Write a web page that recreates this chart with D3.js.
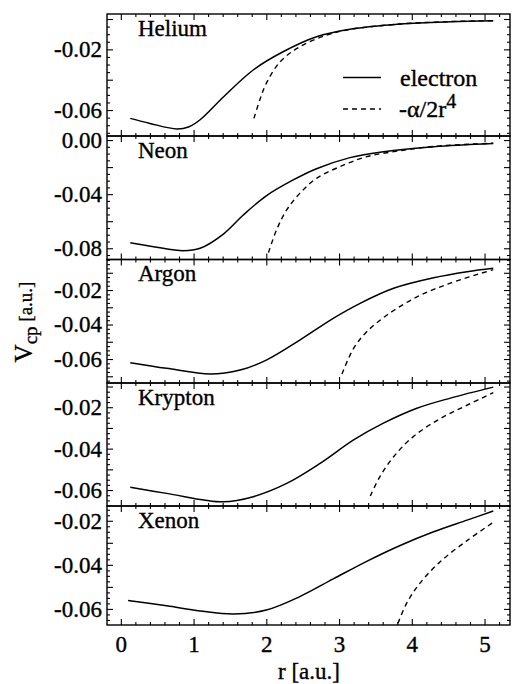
<!DOCTYPE html>
<html>
<head>
<meta charset="utf-8">
<script src="https://cdn.jsdelivr.net/npm/d3@7"></script>
<style>
  body { margin: 0; background: #fff; }
  svg { display: block; }
</style>
</head>
<body>
<svg id="chart" width="516" height="684"></svg>
<script>
// ---- data ---------------------------------------------------------------
const panelNames = ["Helium", "Neon", "Argon", "Krypton", "Xenon"];
const xTickValues = [0, 1, 2, 3, 4, 5];

// labelled y ticks for each panel
const heliumTickLabels  = [-0.02, -0.06];
const neonTickLabels    = [0.00, -0.04, -0.08];
const argonTickLabels   = [-0.02, -0.04, -0.06];
const kryptonTickLabels = [-0.02, -0.04, -0.06];
const xenonTickLabels   = [-0.02, -0.04, -0.06];

// core-polarization potential from the electron calculation: [r, Vcp]
const heliumElectron = [[0.13,-0.0655],[0.40,-0.0688],[0.77,-0.0725],[0.93,-0.0712],[1.09,-0.0664],
  [1.41,-0.0514],[1.82,-0.0336],[2.23,-0.0216],[2.69,-0.0117],[3.15,-0.0068],[3.84,-0.0033],
  [4.53,-0.0018],[5.12,-0.0012]];
const neonElectron = [[0.13,-0.0759],[0.45,-0.0788],[0.86,-0.0818],[1.09,-0.0800],[1.41,-0.0695],
  [1.68,-0.0556],[2.00,-0.0412],[2.37,-0.0295],[2.69,-0.0212],[3.15,-0.0130],[3.61,-0.0086],
  [4.30,-0.0049],[5.12,-0.0025]];
const argonElectron = [[0.13,-0.0621],[0.63,-0.0654],[1.23,-0.0687],[1.64,-0.0664],[2.00,-0.0606],
  [2.46,-0.0490],[2.92,-0.0364],[3.29,-0.0277],[3.75,-0.0190],[4.30,-0.0129],[4.76,-0.0094],
  [5.12,-0.0074]];
const kryptonElectron = [[0.13,-0.0587],[0.63,-0.0616],[1.41,-0.0657],[1.82,-0.0632],[2.28,-0.0568],
  [2.74,-0.0471],[3.20,-0.0358],[3.61,-0.0277],[4.07,-0.0205],[4.53,-0.0156],[5.12,-0.0103]];
const xenonElectron = [[0.10,-0.0562],[0.63,-0.0586],[1.09,-0.0609],[1.55,-0.0623],[2.00,-0.0605],
  [2.46,-0.0544],[2.92,-0.0464],[3.38,-0.0384],[3.84,-0.0312],[4.30,-0.0250],[4.76,-0.0197],
  [5.12,-0.0156]];

// asymptotic -alpha/2r^4 curves: [r, Vcp]
const heliumAsymptotic = [[1.83,-0.0655],[1.91,-0.0534],[2.00,-0.0424],[2.19,-0.0282],[2.46,-0.0183],
  [2.83,-0.0106],[3.15,-0.0069],[3.84,-0.0033],[4.53,-0.0017],[5.12,-0.0011]];
const neonAsymptotic = [[2.03,-0.0832],[2.14,-0.0665],[2.28,-0.0517],[2.46,-0.0394],[2.69,-0.0283],
  [3.01,-0.0197],[3.38,-0.0123],[3.84,-0.0079],[4.30,-0.0047],[5.12,-0.0023]];
const argonAsymptotic = [[3.04,-0.0687],[3.20,-0.0538],[3.38,-0.0442],[3.66,-0.0345],[4.07,-0.0240],
  [4.53,-0.0160],[5.12,-0.0082]];
const kryptonAsymptotic = [[3.43,-0.0629],[3.56,-0.0536],[3.75,-0.0439],[4.02,-0.0342],[4.39,-0.0255],
  [4.76,-0.0190],[5.12,-0.0130]];
const xenonAsymptotic = [[3.81,-0.0665],[3.93,-0.0574],[4.11,-0.0484],[4.39,-0.0386],[4.76,-0.0290],
  [5.12,-0.0207]];

const electronSeries   = [heliumElectron, neonElectron, argonElectron, kryptonElectron, xenonElectron];
const asymptoticSeries = [heliumAsymptotic, neonAsymptotic, argonAsymptotic, kryptonAsymptotic, xenonAsymptotic];
const tickLabelSets    = [heliumTickLabels, neonTickLabels, argonTickLabels, kryptonTickLabels, xenonTickLabels];

// ---- layout -------------------------------------------------------------
const FONT = "'Liberation Serif', 'Times New Roman', serif";
const plotLeft = 107, plotRight = 510;
const panelEdges = [14, 136, 259.5, 383, 506, 625];
const yDomains = [[-0.0771, 0.0033], [-0.0883, 0.0030], [-0.0739, -0.0023], [-0.0677, -0.0083], [-0.0673, -0.0133]];
const majorSteps = [0.02, 0.02, 0.01, 0.01, 0.01];

const svg = d3.select("#chart");
const x = d3.scaleLinear().domain([-0.19, 5.35]).range([plotLeft, plotRight]);
const xMajor = xTickValues;
const xMinor = d3.range(0, 5.3, 0.2).map(v => +v.toFixed(1)).filter(v => !xMajor.includes(v));

function stepTicks(domain, step) {
  const lo = Math.ceil(domain[0] / step - 1e-9), hi = Math.floor(domain[1] / step + 1e-9);
  return d3.range(lo, hi + 1).map(i => +(i * step).toFixed(5));
}
const fmt = v => (Math.abs(v) < 1e-9 ? "0.00" : v.toFixed(2));

// all text in a Times-like face with a slightly heavy, printed look
function styleText(sel, size) {
  return sel.style("font-family", FONT).style("font-size", size + "px")
    .attr("fill", "#000").attr("stroke", "#000").attr("stroke-width", 0.35);
}

const line = (xs, ys) => d3.line().x(d => xs(d[0])).y(d => ys(d[1])).curve(d3.curveCatmullRom.alpha(0.5));

panelNames.forEach((name, i) => {
  const top = panelEdges[i], bottom = panelEdges[i + 1];
  const y = d3.scaleLinear().domain(yDomains[i]).range([bottom, top]);
  const g = svg.append("g");

  const clipId = "clip" + i;
  svg.append("clipPath").attr("id", clipId).append("rect")
    .attr("x", plotLeft).attr("y", top).attr("width", plotRight - plotLeft).attr("height", bottom - top);

  const majors = stepTicks(yDomains[i], majorSteps[i]);
  const minors = stepTicks(yDomains[i], majorSteps[i] / 4).filter(v => !majors.some(m => Math.abs(m - v) < 1e-7));
  const labels = tickLabelSets[i];
  const labelOf = v => (labels.some(l => Math.abs(l - v) < 1e-7) ? fmt(v) : "");

  // y axes, ticks pointing inward
  g.append("g").attr("transform", `translate(${plotLeft},0)`)
    .call(d3.axisLeft(y).tickValues(majors).tickSize(-6).tickPadding(5).tickFormat(labelOf));
  g.append("g").attr("transform", `translate(${plotLeft},0)`)
    .call(d3.axisLeft(y).tickValues(minors).tickSize(-3).tickFormat(""));
  g.append("g").attr("transform", `translate(${plotRight},0)`)
    .call(d3.axisRight(y).tickValues(majors).tickSize(-6).tickFormat(""));
  g.append("g").attr("transform", `translate(${plotRight},0)`)
    .call(d3.axisRight(y).tickValues(minors).tickSize(-3).tickFormat(""));

  // x ticks on top and bottom edges of every panel
  g.append("g").attr("transform", `translate(0,${top})`)
    .call(d3.axisTop(x).tickValues(xMajor).tickSize(-6).tickFormat(""));
  g.append("g").attr("transform", `translate(0,${top})`)
    .call(d3.axisTop(x).tickValues(xMinor).tickSize(-3).tickFormat(""));
  const isLast = i === panelNames.length - 1;
  g.append("g").attr("transform", `translate(0,${bottom})`)
    .call(d3.axisBottom(x).tickValues(xMajor).tickSize(-6).tickPadding(11)
      .tickFormat(isLast ? d3.format("d") : ""));
  g.append("g").attr("transform", `translate(0,${bottom})`)
    .call(d3.axisBottom(x).tickValues(xMinor).tickSize(-3).tickFormat(""));

  g.selectAll(".domain").remove();
  g.selectAll(".tick line").attr("stroke", "#000").attr("stroke-width", 1.1);
  styleText(g.selectAll(".tick text"), 23);

  // frame
  g.append("rect").attr("x", plotLeft).attr("y", top)
    .attr("width", plotRight - plotLeft).attr("height", bottom - top)
    .attr("fill", "none").attr("stroke", "#000").attr("stroke-width", 1.4);

  // curves
  const curves = g.append("g").attr("clip-path", `url(#${clipId})`);
  curves.append("path").datum(electronSeries[i])
    .attr("d", line(x, y)).attr("fill", "none").attr("stroke", "#000").attr("stroke-width", 1.5);
  curves.append("path").datum(asymptoticSeries[i])
    .attr("d", line(x, y)).attr("fill", "none").attr("stroke", "#000").attr("stroke-width", 1.4)
    .attr("stroke-dasharray", "5,4");

  // element name
  styleText(g.append("text").attr("x", 138).attr("y", top + 21.5), 23).text(name);
});

// legend (inside the helium panel)
const legend = svg.append("g");
legend.append("line").attr("x1", 343).attr("x2", 381).attr("y1", 77.5).attr("y2", 77.5)
  .attr("stroke", "#000").attr("stroke-width", 1.5);
legend.append("line").attr("x1", 343).attr("x2", 381).attr("y1", 109).attr("y2", 109)
  .attr("stroke", "#000").attr("stroke-width", 1.4).attr("stroke-dasharray", "5,4");
styleText(legend.append("text").attr("x", 400).attr("y", 86), 24).text("electron");
const asymLabel = styleText(legend.append("text").attr("x", 399).attr("y", 117), 24);
asymLabel.append("tspan").text("-α/2r");
asymLabel.append("tspan").attr("dy", -9).style("font-size", "20px").text("4");

// axis titles
styleText(svg.append("text").attr("x", 309).attr("y", 679).attr("text-anchor", "middle"), 23)
  .text("r [a.u.]");
const yTitle = styleText(svg.append("text").attr("transform", "translate(32,322) rotate(-90)")
  .attr("text-anchor", "middle"), 25);
yTitle.append("tspan").text("V");
yTitle.append("tspan").attr("dy", 5).style("font-size", "19px").text("cp");
yTitle.append("tspan").attr("dy", -5).style("font-size", "19px").text(" [a.u.]");
</script>
</body>
</html>
